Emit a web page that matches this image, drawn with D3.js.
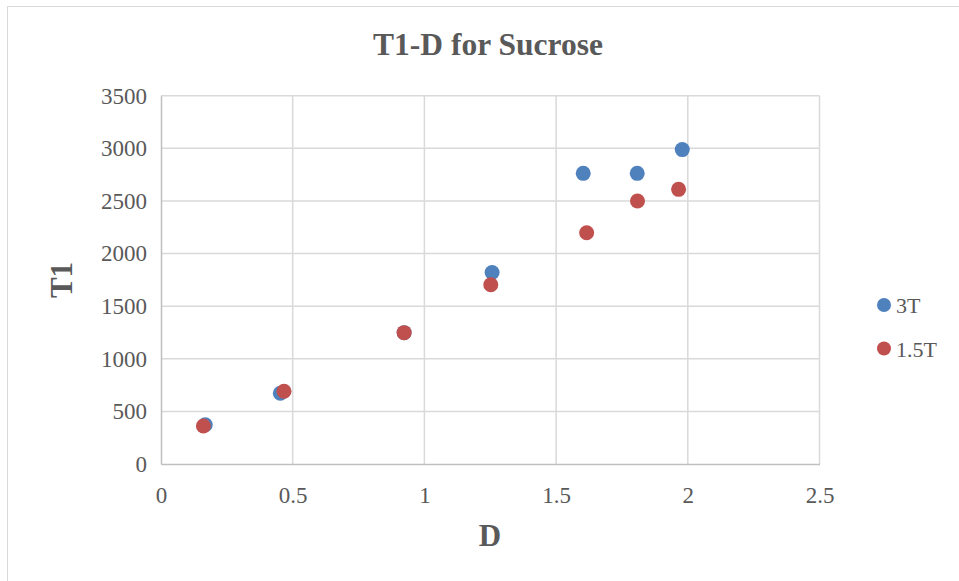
<!DOCTYPE html>
<html>
<head>
<meta charset="utf-8">
<script src="https://cdn.jsdelivr.net/npm/d3@7"></script>
<style>
  html, body { margin: 0; padding: 0; background: #fff; }
  svg { display: block; }
</style>
</head>
<body>
<svg id="chart" width="959" height="581"></svg>
<script>
// T1 relaxation vs. D for sucrose at two field strengths
const seriesNames = ["3T", "1.5T"];
const seriesColors = ["#4F81BD", "#C0504D"];
const d3T = [0.168, 0.453, 0.923, 1.257, 1.603, 1.808, 1.979];
const t1_3T = [373, 672, 1248, 1820, 2762, 2762, 2988];
const d15T = [0.161, 0.467, 0.923, 1.252, 1.616, 1.809, 1.965];
const t1_15T = [361, 691, 1248, 1704, 2198, 2499, 2610];
const xTicks = [0, 0.5, 1, 1.5, 2, 2.5];
const yTicks = [0, 500, 1000, 1500, 2000, 2500, 3000, 3500];

const svg = d3.select("#chart");
const textColor = "#595959";
const serif = "'Liberation Serif', 'Times New Roman', serif";

// outer chart frame
svg.append("rect")
  .attr("x", 7.5).attr("y", 6.5)
  .attr("width", 980).attr("height", 600)
  .attr("fill", "none").attr("stroke", "#d9d9d9").attr("stroke-width", 1);

const x = d3.scaleLinear().domain([0, 2.5]).range([161, 819.5]);
const y = d3.scaleLinear().domain([0, 3500]).range([464, 95.7]);

// gridlines
const grid = svg.append("g");
grid.selectAll(".gx").data(xTicks.slice(1)).join("line")
  .attr("x1", d => x(d)).attr("x2", d => x(d))
  .attr("y1", y(0)).attr("y2", y(3500))
  .attr("stroke", "#d9d9d9").attr("stroke-width", 1.5);
grid.selectAll(".gy").data(yTicks.slice(1)).join("line")
  .attr("x1", x(0)).attr("x2", x(2.5))
  .attr("y1", d => y(d)).attr("y2", d => y(d))
  .attr("stroke", "#d9d9d9").attr("stroke-width", 1.5);

// axes (domain lines only, labels styled separately)
const xAxis = svg.append("g").attr("transform", `translate(0,${y(0)})`)
  .call(d3.axisBottom(x).tickValues(xTicks).tickSize(0).tickPadding(23)
    .tickFormat(d => d3.format("")(d)));
const yAxis = svg.append("g").attr("transform", `translate(${x(0)},0)`)
  .call(d3.axisLeft(y).tickValues(yTicks).tickSize(0).tickPadding(14)
    .tickFormat(d3.format("d")));
[xAxis, yAxis].forEach(a => {
  a.select(".domain").attr("stroke", "#bfbfbf").attr("stroke-width", 1.5);
  a.selectAll("text").attr("fill", textColor)
    .style("font-family", serif).style("font-size", "23px");
});

// points
const series = [
  { xs: d3T, ys: t1_3T },
  { xs: d15T, ys: t1_15T }
];
series.forEach((s, i) => {
  svg.append("g").selectAll("circle")
    .data(s.xs.map((v, j) => [v, s.ys[j]]))
    .join("circle")
    .attr("cx", d => x(d[0])).attr("cy", d => y(d[1]))
    .attr("r", 7.5).attr("fill", seriesColors[i]);
});

// title and axis titles
svg.append("text").attr("x", 488).attr("y", 55)
  .attr("text-anchor", "middle").attr("fill", textColor)
  .style("font-family", serif).style("font-weight", "bold").style("font-size", "31.5px")
  .text("T1-D for Sucrose");
svg.append("text").attr("transform", "translate(72,280) rotate(-90)")
  .attr("text-anchor", "middle").attr("fill", textColor)
  .style("font-family", serif).style("font-weight", "bold").style("font-size", "31px")
  .text("T1");
svg.append("text").attr("x", 490).attr("y", 546)
  .attr("text-anchor", "middle").attr("fill", textColor)
  .style("font-family", serif).style("font-weight", "bold").style("font-size", "31px")
  .text("D");

// legend
const legend = svg.append("g");
seriesNames.forEach((name, i) => {
  const ly = 305 + i * 43.5;
  legend.append("circle").attr("cx", 884).attr("cy", ly).attr("r", 7)
    .attr("fill", seriesColors[i]);
  legend.append("text").attr("x", 896).attr("y", ly + 8)
    .attr("fill", textColor)
    .style("font-family", serif).style("font-size", "22px")
    .text(name);
});
</script>
</body>
</html>
